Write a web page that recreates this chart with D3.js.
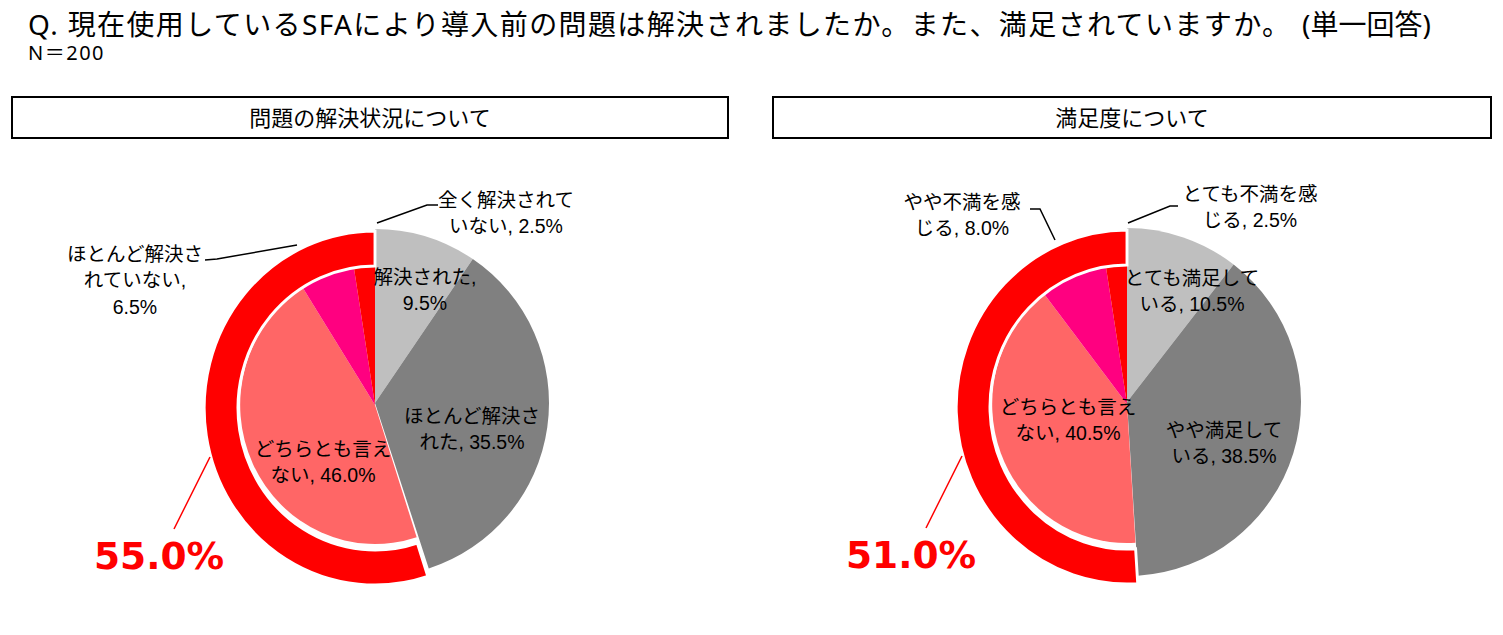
<!DOCTYPE html>
<html>
<head>
<meta charset="utf-8">
<script src="https://cdn.jsdelivr.net/npm/d3@7"></script>
<style>
  body { margin: 0; background: #fff; }
  svg { display: block; }
</style>
</head>
<body>
<svg id="chart" width="1503" height="635"></svg>
<script>
// data
const solveCategories = ["解決された", "ほとんど解決された", "どちらとも言えない", "ほとんど解決されていない", "全く解決されていない"];
const solveValues = [9.5, 35.5, 46.0, 6.5, 2.5];
const satisfyCategories = ["とても満足している", "やや満足している", "どちらとも言えない", "やや不満を感じる", "とても不満を感じる"];
const satisfyValues = [10.5, 38.5, 40.5, 8.0, 2.5];
const sliceColors = ["#BFBFBF", "#808080", "#FF6666", "#FF0080", "#FF0000"];
const negativeStart = 2; // slices from here on are grouped in the red ring

const titleText = "Q. 現在使用しているSFAにより導入前の問題は解決されましたか。また、満足されていますか。";
const titleSuffix = "(単一回答)";
const sampleText = "N＝200";

const labelFont = "'Liberation Sans', Arial, 'Noto Sans CJK JP', sans-serif";
const cjkFont = "'Noto Sans', 'Noto Sans CJK JP', sans-serif";

// layout of each panel
const panels = [
    {
        heading: "問題の解決状況について",
        categories: solveCategories, values: solveValues,
        cx: 375, cy: 403, box: [12, 97, 716, 41],
        wraps: [[6], [7], [7], [7, 13], [7]],
        labelPos: [[425, 290], [472, 429], [323, 462], [135, 280], [506, 213]],
        leaders: [null, null, null,
            [[205, 260], [217, 259], [297, 245]],
            [[438, 205], [427, 205], [377, 223]]]
    },
    {
        heading: "満足度について",
        categories: satisfyCategories, values: satisfyValues,
        cx: 1127, cy: 402, box: [773, 97, 718, 41],
        wraps: [[7], [6], [7], [6], [7]],
        labelPos: [[1192, 291], [1224, 443], [1068, 420], [962, 215], [1250, 207]],
        leaders: [null, null, null,
            [[1030, 209], [1040, 209], [1055, 240]],
            [[1178, 206], [1170, 206], [1128, 223]]]
    }
];

const svg = d3.select("#chart");

svg.append("text")
    .attr("x", 28).attr("y", 35)
    .attr("font-family", cjkFont).attr("font-size", 28)
    .attr("textLength", 1262).attr("lengthAdjust", "spacing")
    .text(titleText);
svg.append("text")
    .attr("x", 1302).attr("y", 35)
    .attr("font-family", cjkFont).attr("font-size", 28)
    .text(titleSuffix);
svg.append("text")
    .attr("x", 28).attr("y", 60)
    .attr("font-family", cjkFont).attr("font-size", 20)
    .attr("letter-spacing", 1.5)
    .text(sampleText);

const pie = d3.pie().sort(null).value(d => d);
const outerArc = d3.arc().innerRadius(0).outerRadius(174);
const innerArc = d3.arc().innerRadius(0).outerRadius(139);
const ringArc = d3.arc().innerRadius(142).outerRadius(177);

panels.forEach(p => {
    const g = svg.append("g");

    // heading box
    g.append("rect")
        .attr("x", p.box[0]).attr("y", p.box[1])
        .attr("width", p.box[2]).attr("height", p.box[3])
        .attr("fill", "#fff").attr("stroke", "#000").attr("stroke-width", 2);
    g.append("text")
        .attr("x", p.box[0] + p.box[2] / 2).attr("y", p.box[1] + p.box[3] / 2 + 8)
        .attr("text-anchor", "middle")
        .attr("font-family", cjkFont).attr("font-size", 22)
        .text(p.heading);

    const arcs = pie(p.values);

    // gray (positive) slices at full radius
    g.append("g")
        .attr("transform", `translate(${p.cx},${p.cy})`)
        .selectAll("path")
        .data(arcs.slice(0, negativeStart))
        .join("path")
        .attr("d", outerArc)
        .attr("fill", d => sliceColors[d.index]);

    // red group slices, smaller radius
    g.append("g")
        .attr("transform", `translate(${p.cx},${p.cy + 2}) scale(0.97,1)`)
        .selectAll("path")
        .data(arcs.slice(negativeStart))
        .join("path")
        .attr("d", innerArc)
        .attr("fill", d => sliceColors[d.index]);

    // red ring around the group
    const groupStart = arcs[negativeStart].startAngle;
    const groupTotal = d3.sum(p.values.slice(negativeStart));
    g.append("path")
        .attr("transform", `translate(${p.cx},${p.cy + 5}) scale(0.965,1)`)
        .attr("d", ringArc({startAngle: groupStart, endAngle: 2 * Math.PI}))
        .attr("fill", "#FF0000")
        .attr("stroke", "#fff").attr("stroke-width", 3)
        .attr("stroke-linejoin", "miter");

    // group total annotation
    g.append("line")
        .attr("x1", p.cx - 201).attr("y1", p.cy + 126)
        .attr("x2", p.cx - 165).attr("y2", p.cy + 54)
        .attr("stroke", "#FF0000").attr("stroke-width", 1.5);
    g.append("text")
        .attr("x", p.cx - 281).attr("y", p.cy + 166)
        .attr("font-family", "'DejaVu Sans', Verdana, sans-serif")
        .attr("font-weight", "bold").attr("font-size", 37.5)
        .attr("fill", "#FF0000")
        .text(groupTotal.toFixed(1) + "%");

    // leader lines
    const line = d3.line();
    g.selectAll("path.leader")
        .data(p.leaders.filter(d => d))
        .join("path")
        .attr("class", "leader")
        .attr("d", line)
        .attr("fill", "none").attr("stroke", "#000").attr("stroke-width", 1.5);

    // slice labels
    p.categories.forEach((cat, i) => {
        const full = `${cat}, ${p.values[i].toFixed(1)}%`;
        const cuts = [0, ...p.wraps[i], full.length];
        const lines = d3.pairs(cuts).map(([a, b]) => full.slice(a, b).trim());
        const lh = 26.5;
        const [x, yMid] = p.labelPos[i];
        const y0 = yMid - (lines.length - 1) * lh / 2 + 7;
        const t = g.append("text")
            .attr("text-anchor", "middle")
            .attr("font-family", labelFont).attr("font-size", 19.5)
            .attr("fill", "#000");
        lines.forEach((s, k) => {
            t.append("tspan").attr("x", x).attr("y", y0 + k * lh).text(s);
        });
    });
});
</script>
</body>
</html>
